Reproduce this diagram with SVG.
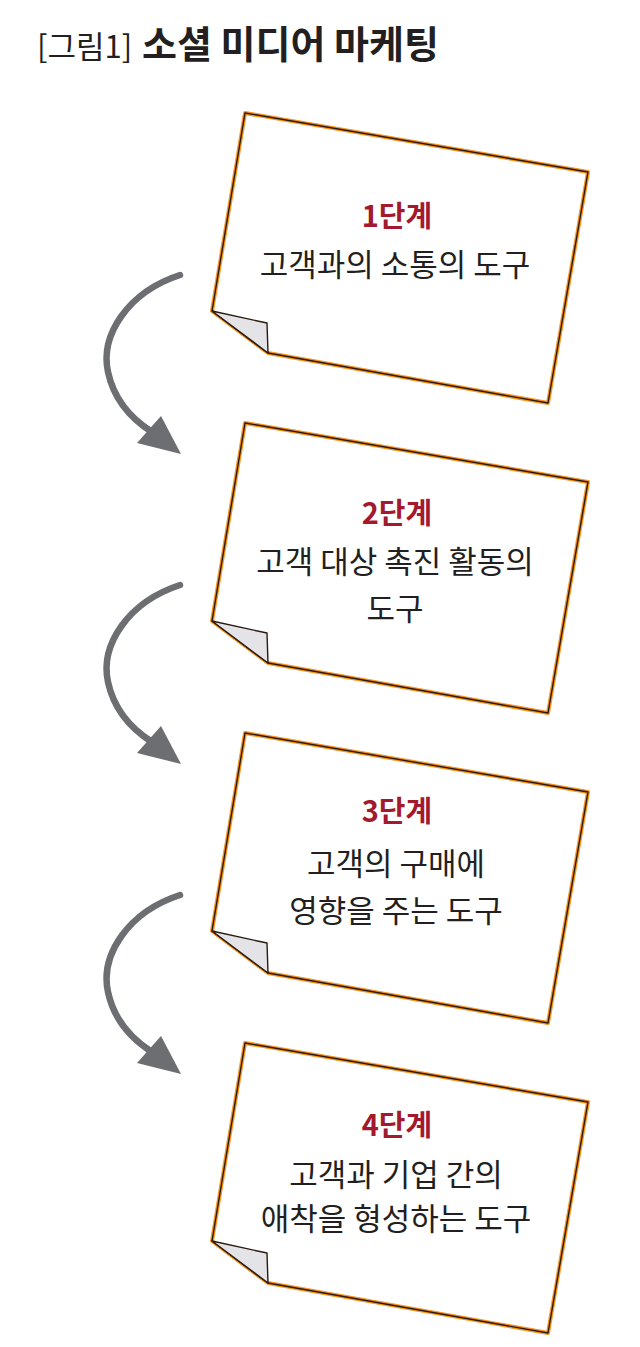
<svg xmlns="http://www.w3.org/2000/svg" xmlns:xlink="http://www.w3.org/1999/xlink" width="640" height="1347" viewBox="0 0 640 1347">
<style>
.t{font-family:"Noto Sans CJK KR","Noto Sans",sans-serif;fill:#231f20;text-anchor:middle}
.step{font-family:"Noto Sans CJK KR","Noto Sans",sans-serif;fill:#a3192e;font-weight:bold;text-anchor:middle;font-size:29px}
.body{font-size:31px}
.halo{fill:#fff;stroke:#f7941d;stroke-width:4;stroke-linejoin:round}
.edge{fill:none;stroke:#2b1a10;stroke-width:1.4;stroke-linejoin:round}
.fold{fill:#e4e4e8;stroke:#2b1a10;stroke-width:1.4;stroke-linejoin:round}
.shaft{fill:none;stroke:#6d6e71;stroke-width:6.5;stroke-linecap:round}
.head{fill:#6d6e71}
</style>
<defs>
<g id="card">
<path class="halo" d="M245,113 L588,172 L548,403 L268,353 L212,311 Z"/>
<path class="edge" d="M245,113 L588,172 L548,403 L268,353 L212,311 Z"/>
<path class="fold" d="M212,311 L267,323 L268,353 Z"/>
</g>
<g id="arrow">
<path class="shaft" d="M180,275 C128,292 100,335 108,372 C114,400 130,418 152,432"/>
<polygon class="head" points="181,454 137,443 161,416"/>
</g>
</defs>
<rect width="640" height="1347" fill="#fff"/>
<g id="title">
<text x="37" y="58" class="t" style="text-anchor:start;font-size:31px">[그림1]</text>
<text x="142" y="58" class="t" style="text-anchor:start;font-size:38px;font-weight:bold">소셜 미디어 마케팅</text>
</g>
<g id="connectors">
<use xlink:href="#arrow"/>
<use xlink:href="#arrow" transform="translate(0,310)"/>
<use xlink:href="#arrow" transform="translate(0,620)"/>
</g>
<g id="step1">
<use xlink:href="#card"/>
<text x="397" y="227" class="step">1단계</text>
<text x="395" y="276" class="t body">고객과의 소통의 도구</text>
</g>
<g id="step2">
<use xlink:href="#card" transform="translate(0,310)"/>
<text x="397" y="524" class="step">2단계</text>
<text x="395" y="573" class="t body">고객 대상 촉진 활동의</text>
<text x="395" y="620" class="t body">도구</text>
</g>
<g id="step3">
<use xlink:href="#card" transform="translate(0,620)"/>
<text x="397" y="822" class="step">3단계</text>
<text x="396" y="875" class="t body">고객의 구매에</text>
<text x="396" y="922" class="t body">영향을 주는 도구</text>
</g>
<g id="step4">
<use xlink:href="#card" transform="translate(0,930)"/>
<text x="397" y="1136" class="step">4단계</text>
<text x="396" y="1186" class="t body">고객과 기업 간의</text>
<text x="396" y="1230" class="t body">애착을 형성하는 도구</text>
</g>
</svg>
